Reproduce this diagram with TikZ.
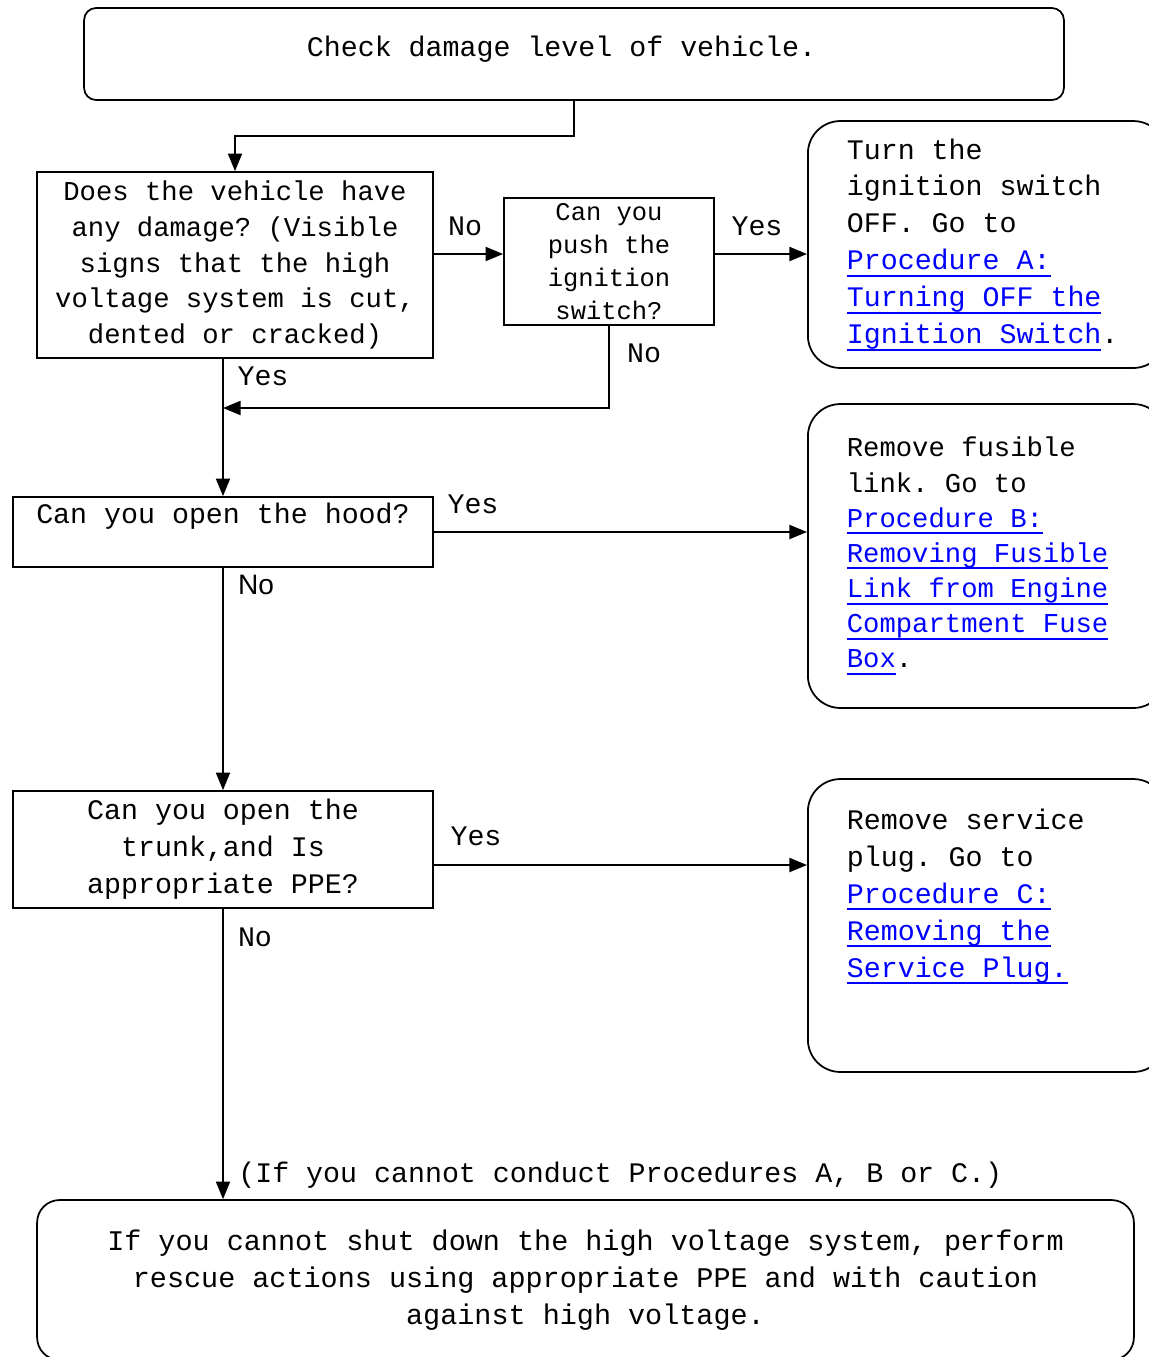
\documentclass[tikz,border=0pt]{standalone}
\usepackage{fontspec}
\setmainfont{Liberation Mono}
\newfontfamily\arialfont{Liberation Sans}
\usepackage{xcolor}
\definecolor{lnkblue}{RGB}{0,0,255}
\usetikzlibrary{arrows.meta,positioning,calc}
\frenchspacing
\newcommand{\lnk}[1]{\leavevmode{\color{lnkblue}\setbox0\hbox{#1}\rlap{\rule[-4pt]{\wd0}{1.1pt}}\box0}}

\begin{document}
\begin{tikzpicture}[x=0.02cm,y=-0.02cm,
  flowbox/.style={draw,line width=1pt,align=center,inner sep=0pt,
    font=\fontsize{16.1}{21}\selectfont},
  stepround/.style={draw,line width=1pt,rounded corners=0.65cm,anchor=west,align=flush left,
    text width=5.6cm,inner xsep=0.78cm,inner ysep=0pt,font=\fontsize{16.1}{21}\selectfont},
  flowarr/.style={-{Triangle[length=10pt,width=8pt]},line width=1pt},
  flowlbl/.style={font=\fontsize{16.1}{21}\selectfont,inner sep=0pt}
]
  \useasboundingbox (0,0) rectangle (1149,1357);
  \clip (0,0) rectangle (1149,1357);

  % Start: damage level
  \node[flowbox,rounded corners=0.24cm,minimum width=19.6cm,minimum height=1.84cm,
    text depth=0.3cm] (check) at (574,54) {Check damage level of vehicle.\hspace*{0.5cm}};

  % Question 1: visible damage
  \node[flowbox,font=\fontsize{15.5}{20.3}\selectfont,minimum width=7.92cm,
    minimum height=3.72cm] (damage) at (235,265) {
    Does the vehicle have\\any damage? (Visible\\signs that the high\\
    voltage system is cut,\\dented or cracked)};

  % Question 2: ignition switch
  \node[flowbox,font=\fontsize{14.5}{18.8}\selectfont,minimum width=4.2cm,
    minimum height=2.54cm] (push) at (609,261.5) {Can you\\push the\\ignition\\switch?};

  % Procedure A
  \node[stepround,minimum height=4.94cm] (procA) at (807,244.5) {
    Turn the\\ignition switch\\OFF. Go to\\\lnk{Procedure A:}\\
    \lnk{Turning OFF the}\\\lnk{Ignition Switch}.};

  % Question 3: hood
  \node[flowbox,minimum width=8.4cm,minimum height=1.4cm] (hood) at (223,532) {
    Can you open the hood?\\\mbox{}};

  % Procedure B
  \node[stepround,minimum height=6.08cm,font=\fontsize{15.5}{20}\selectfont] (procB) at (807,556) {
    Remove fusible\\link. Go to\\\lnk{Procedure B:}\\\lnk{Removing Fusible}\\
    \lnk{Link from Engine}\\\lnk{Compartment Fuse}\\\lnk{Box}.};

  % Question 4: trunk
  \node[flowbox,minimum width=8.4cm,minimum height=2.34cm] (trunk) at (223,849.5) {
    Can you open the\\trunk,and Is\\appropriate PPE?};

  % Procedure C
  \node[stepround,minimum height=5.86cm] (procC) at (807,925.5) {
    Remove service\\plug. Go to\\\lnk{Procedure C:}\\\lnk{Removing the}\\
    \lnk{Service Plug.}\\[0.56cm]\mbox{}};

  % Fallback
  \node[flowbox,rounded corners=0.45cm,minimum width=21.94cm,minimum height=3.2cm,
    font=\fontsize{16.2}{21}\selectfont] (rescue) at (585.5,1280) {
    If you cannot shut down the high voltage system, perform\\
    rescue actions using appropriate PPE and with caution\\against high voltage.};

  % Connectors
  \draw[flowarr] (check.south) -- ++(0,35) -| (damage.north);

  \coordinate (pushin) at ([yshift=0.15cm]push.west);
  \draw[flowarr] (pushin -| damage.east) -- (pushin);
  \node[flowlbl] (noA) at (465,226) {No};

  \coordinate (pushout) at ([yshift=0.15cm]push.east);
  \draw[flowarr] (pushout) -- (pushout -| procA.west);
  \node[flowlbl] (yesA) at (757,226) {Yes};

  \coordinate (merge) at (223,408);
  \draw[flowarr] (push.south) |- (merge);
  \node[flowlbl] (noB) at (644,353) {No};

  \draw[flowarr] (damage.south -| hood.north) -- (hood.north);
  \node[flowlbl] (yesB) at (263,376) {Yes};

  \draw[flowarr] (hood.east) -- (hood.east -| procB.west);
  \node[flowlbl] (yesC) at (473,504) {Yes};

  \draw[flowarr] (hood.south) -- (trunk.north);
  \node[font=\arialfont\fontsize{16}{19}\selectfont,inner sep=0pt] (noC) at (256,585) {No};

  \coordinate (trunkout) at ([yshift=-0.31cm]trunk.east);
  \draw[flowarr] (trunkout) -- (trunkout -| procC.west);
  \node[flowlbl] (yesD) at (476,836) {Yes};

  \draw[flowarr] (trunk.south) -- (trunk.south |- rescue.north);
  \node[flowlbl] (noD) at (255,937) {No};
  \node[flowlbl,anchor=west] (ifnot) at (238,1175) {(If you cannot conduct Procedures A, B or C.)};
\end{tikzpicture}
\end{document}
